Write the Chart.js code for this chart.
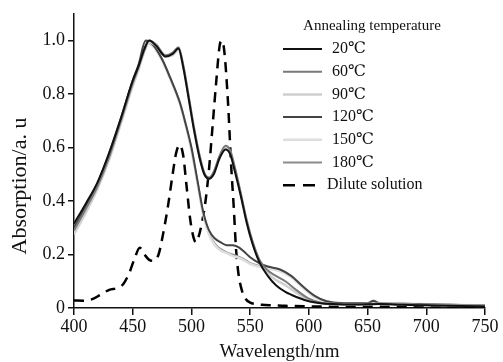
<!DOCTYPE html>
<html>
<head>
<meta charset="utf-8">
<script src="https://cdn.jsdelivr.net/npm/chart.js@4.4.1/dist/chart.umd.min.js"></script>
<style>
  body { margin: 0; background: #fff; }
  #wrap { width: 503px; height: 362px; }
</style>
</head>
<body>
<div id="wrap"><canvas id="g_absorcion" width="503" height="362"></canvas></div>
<script>
// wavelengths (nm) of the film curves that keep the 490 shoulder
var wl_a = [400, 410, 420, 430, 440, 450, 455, 460, 464, 470, 478, 484, 489, 493, 497, 502, 507, 511, 515, 519, 524, 529, 533, 537, 542, 547, 552, 558, 565, 572, 580, 590, 600, 610, 620, 640, 660, 680, 700, 720, 750];
var abs_20  = [0.315, 0.39, 0.47, 0.58, 0.71, 0.85, 0.905, 0.97, 1.0, 0.98, 0.94, 0.95, 0.97, 0.90, 0.80, 0.67, 0.56, 0.50, 0.483, 0.50, 0.56, 0.593, 0.575, 0.51, 0.42, 0.32, 0.24, 0.17, 0.12, 0.085, 0.06, 0.04, 0.025, 0.018, 0.015, 0.013, 0.015, 0.012, 0.01, 0.008, 0.006];
var abs_60  = [0.29, 0.37, 0.455, 0.565, 0.70, 0.84, 0.90, 0.965, 1.0, 0.985, 0.945, 0.955, 0.975, 0.91, 0.81, 0.68, 0.57, 0.505, 0.488, 0.51, 0.57, 0.607, 0.59, 0.525, 0.43, 0.33, 0.25, 0.18, 0.14, 0.12, 0.10, 0.065, 0.035, 0.02, 0.015, 0.014, 0.016, 0.013, 0.011, 0.009, 0.008];
var abs_90  = [0.28, 0.36, 0.45, 0.56, 0.695, 0.835, 0.895, 0.96, 0.995, 0.98, 0.94, 0.945, 0.965, 0.905, 0.805, 0.675, 0.565, 0.50, 0.485, 0.505, 0.565, 0.60, 0.585, 0.52, 0.425, 0.325, 0.245, 0.175, 0.13, 0.105, 0.085, 0.055, 0.03, 0.02, 0.015, 0.014, 0.016, 0.013, 0.011, 0.009, 0.008];

// wavelengths (nm) of the film curves that fall off after 460
var wl_b = [400, 410, 420, 430, 440, 450, 455, 461, 467, 475, 482, 490, 495, 500, 505, 510, 515, 520, 525, 530, 535, 540, 545, 550, 557, 565, 575, 585, 595, 605, 615, 630, 650, 655, 660, 680, 700, 720, 750];
var abs_120 = [0.30, 0.38, 0.465, 0.58, 0.71, 0.85, 0.91, 1.0, 0.985, 0.93, 0.86, 0.77, 0.69, 0.60, 0.48, 0.36, 0.29, 0.26, 0.245, 0.235, 0.235, 0.228, 0.21, 0.19, 0.17, 0.155, 0.145, 0.12, 0.08, 0.045, 0.025, 0.018, 0.018, 0.026, 0.018, 0.016, 0.014, 0.012, 0.01];
var abs_150 = [0.275, 0.355, 0.445, 0.555, 0.69, 0.83, 0.89, 0.99, 0.98, 0.925, 0.855, 0.765, 0.685, 0.59, 0.47, 0.35, 0.275, 0.235, 0.215, 0.205, 0.195, 0.188, 0.178, 0.165, 0.155, 0.148, 0.138, 0.115, 0.075, 0.04, 0.024, 0.018, 0.018, 0.022, 0.018, 0.016, 0.014, 0.012, 0.01];
var abs_180 = [0.285, 0.365, 0.45, 0.56, 0.695, 0.835, 0.895, 0.995, 0.985, 0.93, 0.86, 0.77, 0.69, 0.595, 0.475, 0.355, 0.28, 0.24, 0.22, 0.208, 0.2, 0.192, 0.182, 0.168, 0.158, 0.15, 0.14, 0.117, 0.078, 0.042, 0.025, 0.018, 0.018, 0.028, 0.018, 0.016, 0.014, 0.012, 0.01];

// dilute solution
var wl_d = [400, 408, 415, 422, 430, 437, 442, 447, 452, 456, 460, 464, 468, 472, 476, 480, 484, 487, 490, 493, 496, 499, 502, 504, 506, 509, 512, 515, 518, 521, 524, 526, 528, 531, 534, 536, 538, 540, 543, 546, 550, 555, 560, 570, 580, 600, 620, 650, 700, 750];
var abs_dil = [0.028, 0.027, 0.032, 0.048, 0.068, 0.075, 0.09, 0.13, 0.19, 0.225, 0.2, 0.18, 0.176, 0.2, 0.28, 0.38, 0.5, 0.58, 0.61, 0.57, 0.45, 0.33, 0.26, 0.245, 0.265, 0.32, 0.40, 0.52, 0.68, 0.84, 0.98, 1.0, 0.96, 0.78, 0.52, 0.38, 0.22, 0.13, 0.065, 0.035, 0.02, 0.015, 0.012, 0.01, 0.008, 0.006, 0.005, 0.005, 0.004, 0.004];

var etiquetas = ['20\u2103', '60\u2103', '90\u2103', '120\u2103', '150\u2103', '180\u2103', 'Dilute solution'];
var ticks_y = [0, 0.2, 0.4, 0.6, 0.8, 1.0];

var serif = "'Liberation Serif', 'Times New Roman', 'DejaVu Serif', serif";

function puntos(xs, ys) {
    var p = [];
    for (let i = 0; i < xs.length; i++) {
        p.push({x: xs[i], y: ys[i]});
    }
    return p;
}

function serie(label, xs, ys, color, ancho, dash) {
    return {
        label: label,
        data: puntos(xs, ys),
        borderColor: color,
        borderWidth: ancho,
        borderDash: dash || [],
        pointRadius: 0,
        fill: false,
        cubicInterpolationMode: 'monotone'
    };
}

// legend + y title drawn by hand, to sit where the original has them
var leyenda = {
    id: 'leyenda',
    afterDraw: function (chart) {
        var ctx = chart.ctx;
        ctx.save();
        ctx.fillStyle = '#111';
        ctx.textBaseline = 'middle';
        ctx.font = '15px ' + serif;
        ctx.textAlign = 'center';
        ctx.fillText('Annealing temperature', 372, 26);
        ctx.textAlign = 'left';
        ctx.font = '16px ' + serif;
        chart.data.datasets.forEach(function (ds, i) {
            var y = 49 + i * 22.7;
            ctx.strokeStyle = ds.borderColor;
            ctx.lineWidth = ds.borderWidth;
            ctx.setLineDash(ds.borderDash.length ? [12, 8] : []);
            ctx.beginPath();
            ctx.moveTo(283, y);
            ctx.lineTo(322, y);
            ctx.stroke();
            ctx.fillText(ds.label, i == 6 ? 327 : 332, y);
        });
        ctx.setLineDash([]);
        ctx.translate(20, 186);
        ctx.rotate(-Math.PI / 2);
        ctx.textAlign = 'center';
        ctx.font = '22px ' + serif;
        ctx.fillText('Absorption/a. u', 0, 0);
        ctx.restore();
    }
};

new Chart(document.getElementById('g_absorcion'), {
    type: 'line',
    data: {
        datasets: [
            serie(etiquetas[0], wl_a, abs_20, '#111111', 2),
            serie(etiquetas[1], wl_a, abs_60, '#7a7a7a', 2),
            serie(etiquetas[2], wl_a, abs_90, '#cfcfcf', 2.5),
            serie(etiquetas[3], wl_b, abs_120, '#444444', 2),
            serie(etiquetas[4], wl_b, abs_150, '#dedede', 2.5),
            serie(etiquetas[5], wl_b, abs_180, '#8c8c8c', 2),
            serie(etiquetas[6], wl_d, abs_dil, '#000000', 2.5, [10, 7])
        ]
    },
    options: {
        responsive: false,
        animation: false,
        devicePixelRatio: 1,
        layout: { padding: { top: 10, right: 18, left: 0, bottom: 0 } },
        plugins: {
            legend: { display: false },
            tooltip: { enabled: false }
        },
        scales: {
            x: {
                type: 'linear',
                min: 400,
                max: 750,
                afterFit: function (scale) { scale.height = 54; },
                border: { display: true, color: '#111', width: 1.5 },
                grid: { display: true, drawOnChartArea: false, drawTicks: true, tickLength: 7, color: '#111', lineWidth: 1.5 },
                ticks: { stepSize: 50, padding: 1, color: '#111', font: { family: serif, size: 18 } },
                title: {
                    display: true,
                    text: 'Wavelength/nm',
                    color: '#111',
                    font: { family: serif, size: 19, lineHeight: 1 },
                    padding: { top: 0, bottom: 0 }
                }
            },
            y: {
                min: 0,
                max: 1.1,
                afterFit: function (scale) { scale.width = 74; },
                border: { display: true, color: '#111', width: 1.5 },
                grid: { display: true, drawOnChartArea: false, drawTicks: true, tickLength: 6, color: '#111', lineWidth: 1.5 },
                afterBuildTicks: function (scale) {
                    scale.ticks = ticks_y.map(function (v) { return {value: v}; });
                },
                ticks: {
                    padding: 3,
                    color: '#111',
                    font: { family: serif, size: 18 },
                    callback: function (v) { return v === 0 ? '0' : v.toFixed(1); }
                }
            }
        }
    },
    plugins: [leyenda]
});
</script>
</body>
</html>
